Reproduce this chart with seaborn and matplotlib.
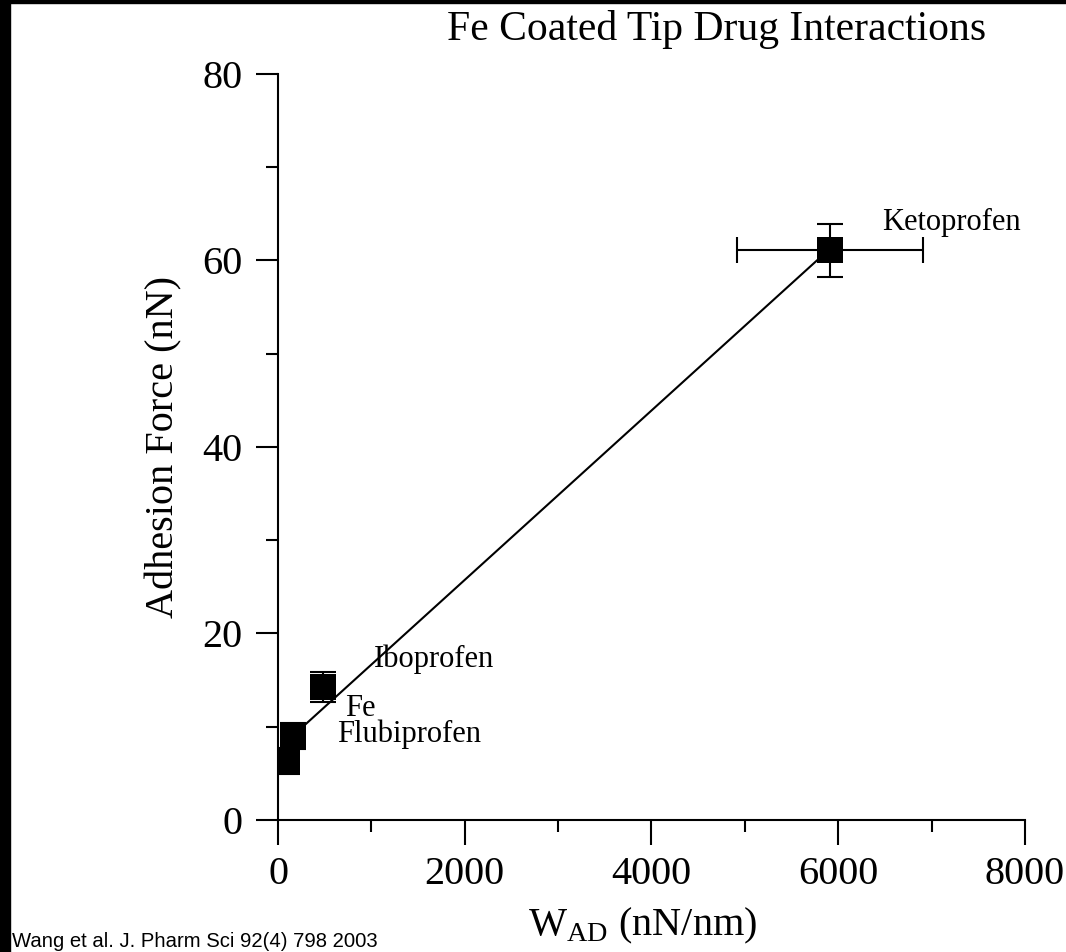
import matplotlib
matplotlib.use("Agg")
import matplotlib.pyplot as plt
import matplotlib.patches as mpatches
from matplotlib.ticker import MultipleLocator
import seaborn as sns
import pandas as pd

drugs = ["Fe", "Flubiprofen", "Iboprofen", "Ketoprofen"]
w_ad = [96, 160, 482, 5910]
force = [6.3, 9.0, 14.3, 61.1]
w_err = [0, 0, 0, 995]
force_err = [1.4, 1.4, 1.6, 2.85]
label_x = [717, 632, 1028, 6467]
label_y = [11.15, 8.36, 16.4, 63.3]
x_ticks = [0, 2000, 4000, 6000, 8000]
y_ticks = [0, 20, 40, 60, 80]

df = pd.DataFrame({"drug": drugs, "w": w_ad, "f": force})

sns.set_theme(style="ticks")
plt.rcParams["font.family"] = ["Liberation Serif", "DejaVu Serif"]
plt.rcParams["mathtext.fontset"] = "custom"
plt.rcParams["mathtext.rm"] = "Liberation Serif"

fig = plt.figure(figsize=(10.66, 9.52), dpi=100)
ax = fig.add_axes([0.2608, 0.1387, 0.7007, 0.7836])

sns.regplot(data=df, x="w", y="f", ci=None, scatter=False, truncate=True,
            line_kws={"color": "black", "lw": 1.5, "zorder": 2}, ax=ax)
ax.errorbar(w_ad, force, xerr=w_err, yerr=force_err, fmt="none",
            ecolor="black", elinewidth=1.5, capsize=9.4, capthick=1.5, zorder=3)
sns.scatterplot(data=df, x="w", y="f", marker="s", s=360, color="black",
                edgecolor="black", linewidth=0, zorder=4, ax=ax, legend=False)

for name, tx, ty in zip(drugs, label_x, label_y):
    ax.text(tx, ty, name, fontsize=22, ha="left", va="baseline", color="black")

ax.set_xlim(0, 8000)
ax.set_ylim(0, 80)
ax.set_xticks(x_ticks)
ax.set_yticks(y_ticks)
ax.xaxis.set_minor_locator(MultipleLocator(1000))
ax.yaxis.set_minor_locator(MultipleLocator(10))
ax.tick_params(axis="x", which="major", direction="out", length=18, width=1.5,
               labelsize=29, pad=8, color="black", labelcolor="black")
ax.tick_params(axis="x", which="minor", direction="out", length=8.6, width=1.5, color="black")
ax.tick_params(axis="y", which="major", direction="out", length=15.8, width=1.5,
               labelsize=29, pad=10, color="black", labelcolor="black")
ax.tick_params(axis="y", which="minor", direction="out", length=8.6, width=1.5, color="black")

sns.despine(ax=ax)
for s in ["left", "bottom"]:
    ax.spines[s].set_linewidth(1.5)
    ax.spines[s].set_color("black")

ax.set_xlabel(r"W$_{\mathrm{AD}}$ (nN/nm)", fontsize=29, color="black", va="baseline")
ax.xaxis.set_label_coords((643 - 278) / 747, (820 - 935) / 746)
ax.set_ylabel("Adhesion Force (nN)", fontsize=29, labelpad=14, color="black")

fig.text(717 / 1066, 1 - 40 / 952, "Fe Coated Tip Drug Interactions",
         fontsize=30, ha="center", va="baseline", color="black")
fig.text(12 / 1066, 1 - 947 / 952, "Wang et al. J. Pharm Sci 92(4) 798 2003",
         fontsize=14.6, ha="left", va="baseline", color="black",
         family=["Liberation Sans", "DejaVu Sans"])

fig.patches.append(mpatches.Rectangle((0, 0), 10 / 1066, 1, transform=fig.transFigure,
                                      color="black", zorder=10))
fig.patches.append(mpatches.Rectangle((0, 1 - 3 / 952), 1, 3 / 952, transform=fig.transFigure,
                                      color="black", zorder=10))

fig.savefig("out.png", dpi=100)
